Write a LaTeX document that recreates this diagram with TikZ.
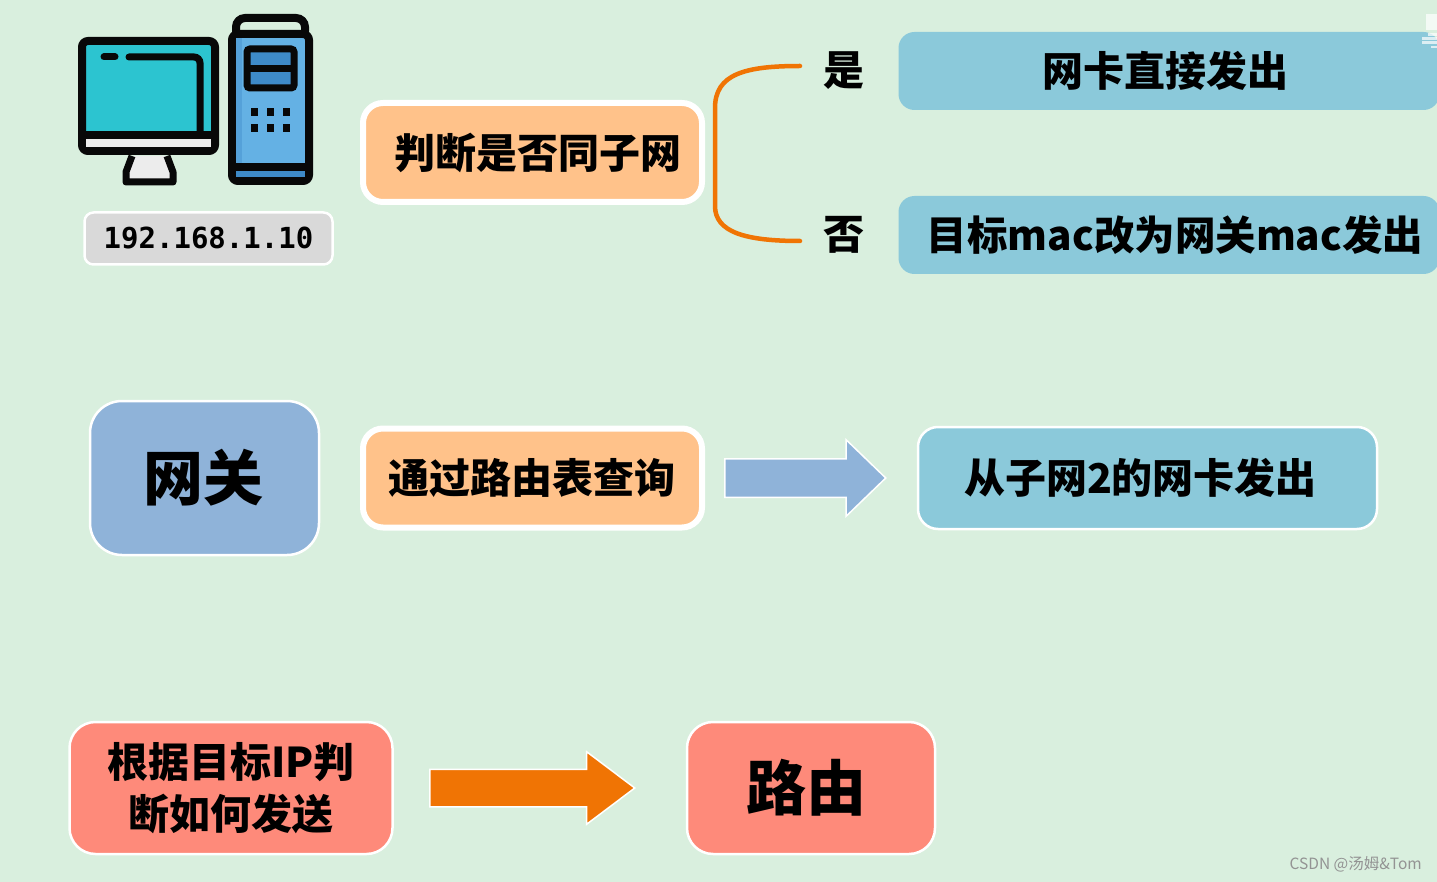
\documentclass[tikz,border=0pt]{standalone}
\usepackage{fontspec}
\setmainfont{Noto Sans CJK SC}
\newfontfamily\ipfont{DejaVu Sans Mono}
\usepackage{xcolor}
\definecolor{paneback}{RGB}{217,239,222}
\definecolor{peach}{RGB}{255,194,138}
\definecolor{skyteal}{RGB}{139,201,218}
\definecolor{steelblue}{RGB}{143,179,217}
\definecolor{salmon}{RGB}{254,138,122}
\definecolor{deeporange}{RGB}{240,116,4}
\definecolor{screenteal}{RGB}{44,196,208}
\definecolor{towerblue}{RGB}{100,177,228}
\definecolor{towerdark}{RGB}{62,138,200}
\definecolor{iconline}{RGB}{8,8,8}
\usetikzlibrary{shapes.arrows, positioning}
\tikzset{
  x=1pt, y=-1pt,
  boxfont/.style={font=\bfseries\fontsize{41}{52}\selectfont},
  bigfont/.style={font=\bfseries\fontsize{60}{70}\selectfont},
  box/.style={draw=white, rounded corners=#1, inner sep=0pt, align=center, boxfont},
  box/.default=20pt,
  flatbox/.style={box=16pt, draw=none, fill=skyteal, minimum height=78pt},
  peachbox/.style={box, line width=6pt, fill=peach, minimum width=339pt, minimum height=99pt},
  fatarrow/.style={single arrow, draw=white, line width=1.5pt, inner xsep=0pt, anchor=tail},
  screenpart/.style={line width=8pt, draw=iconline, rounded corners=6pt},
}
\begin{document}
\begin{tikzpicture}
\useasboundingbox (0,0) rectangle (1437,882);
\fill[paneback] (0,0) rectangle (1437,882);

\draw[screenpart, fill=screenteal] (82,41) rectangle (215,151);
\fill[gray!15] (86,139) rectangle (211,147);
\draw[line width=8pt, iconline] (82,135) -- (215,135);
\draw[line width=7pt, iconline, line cap=round] (104,57) -- (115,57);
\draw[line width=7pt, iconline, line cap=round, rounded corners=6pt] (129,57) -- (200,57) -- (200,132);
\draw[line width=7pt, iconline, fill=gray!15, line join=round] (132,156) -- (126,172) -- (126,182) -- (173,182) -- (173,172) -- (167,156);
\draw[screenpart, rounded corners=9pt, fill=paneback] (236,18) rectangle (305,40);
\draw[screenpart, fill=towerblue] (232,34) rectangle (309,181);
\fill[towerdark!40!towerblue] (236,38) rectangle (242,163);
\fill[towerdark] (236,171) rectangle (305,177);
\draw[line width=8pt, iconline] (232,167) -- (309,167);
\draw[line width=7pt, iconline, fill=towerdark, rounded corners=3pt] (247,49) rectangle (294,88);
\draw[line width=7pt, iconline] (247,68.500) -- (294,68.500);
\foreach \dotx in {251,267,283} {
  \foreach \doty in {108,124} {
    \fill[iconline] (\dotx,\doty) rectangle (\dotx+7,\doty+8);
  }
}
\node[box=9pt, line width=2.500pt, fill=gray!30, minimum width=248pt, minimum height=52pt, font=\ipfont\bfseries\fontsize{29}{36}\selectfont] (ipbox) at (208.500,238.500) {192.168.1.10};

\node[peachbox] (judgebox) at (532.500,152.500) {\hspace*{10pt}判断是否同子网};
\node[boxfont] (yeslabel) at (844,71) {是};
\node[boxfont] (nolabel) at (844,235) {否};
\node[flatbox, minimum width=541pt] (directbox) at (1169,71) {};
\node[boxfont] (directtext) at (1165.500,71) {网卡直接发出};
\node[flatbox, minimum width=541pt] (macbox) at (1169,235) {};
\node[font=\bfseries\fontsize{40.500}{52}\selectfont] (mactext) at (1175,235) {目标mac改为网关mac发出};
\coordinate (bracketyes) at (800,66);
\coordinate (bracketno) at (800,241);
\draw[deeporange, line width=4.500pt, line cap=round] (bracketyes) .. controls (745,66) and (715,74) .. (715,108) -- (715,206) .. controls (715,232) and (745,241) .. (bracketno);

\foreach \cutx/\cuty/\cutw/\cuth in {1426/14/11/16, 1428/33/9/3, 1422/37/15/3, 1422/41/15/3, 1431/46/6/2} {
  \fill[white, opacity=0.7] (\cutx,\cuty) rectangle (\cutx+\cutw,\cuty+\cuth);
}

\node[box=32pt, line width=2.500pt, fill=steelblue, minimum width=229pt, minimum height=154pt, bigfont] (gatewaybox) at (204.500,478) {网关\hspace*{2pt}};
\node[peachbox] (lookupbox) at (532.500,478) {通过路由表查询\hspace*{2pt}};
\node[fatarrow, fill=steelblue, inner ysep=18.500pt, minimum height=161pt, single arrow head extend=19pt, single arrow tip angle=88] (gatearrow) at (724,478) {};
\node[box, line width=2.500pt, fill=skyteal, minimum width=459pt, minimum height=102pt] (sendbox) at (1147.500,478) {从子网2的网卡发出\hspace*{14pt}};

\node[box=26pt, line width=2.500pt, fill=salmon, minimum width=323pt, minimum height=132pt] (decidebox) at (231,788) {根据目标IP判\\断如何发送};
\node[fatarrow, fill=deeporange, inner ysep=18pt, minimum height=205pt, single arrow head extend=17.500pt, single arrow tip angle=74] (routearrow) at (429,788) {};
\node[box=26pt, line width=2.500pt, fill=salmon, minimum width=248pt, minimum height=132pt, bigfont] (routerbox) at (811,788) {\raisebox{3pt}{路由}\hspace*{10pt}};

\node[anchor=east, inner sep=0pt, text=gray!85, font=\fontsize{15.500}{18}\selectfont] (watermark) at (1422,864) {CSDN @汤姆\&Tom};
\end{tikzpicture}
\end{document}
